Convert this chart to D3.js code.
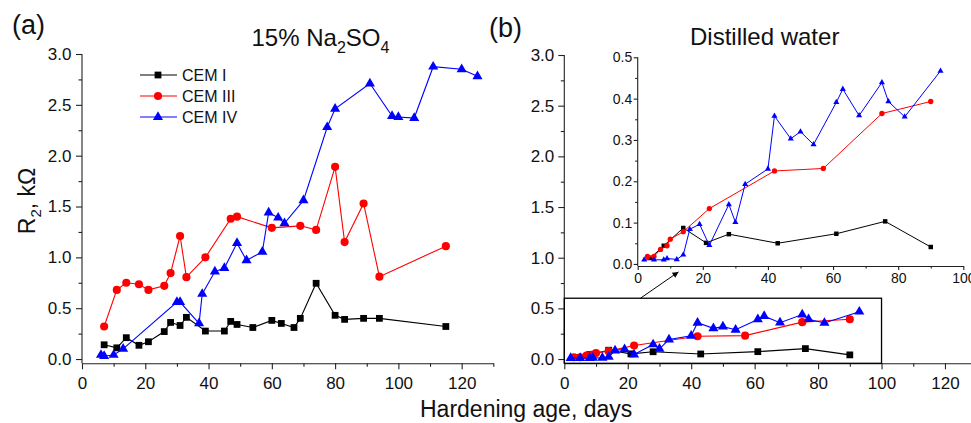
<!DOCTYPE html>
<html>
<head>
<meta charset="utf-8">
<script src="https://cdn.jsdelivr.net/npm/d3@7/dist/d3.min.js"></script>
<style>
  html, body { margin: 0; padding: 0; background: #fff; }
  svg { display: block; font-family: "Liberation Sans", Arial, sans-serif; }
</style>
</head>
<body>
<svg id="chart" width="971" height="423"></svg>
<script>
// ---- (a) 15% Na2SO4: R2 (kOhm) vs hardening age (days) ----
const sulfDaysI  = [7, 11, 14, 18, 21, 26, 28, 31, 33, 39, 45, 47, 49, 54, 60, 63, 67, 69, 74, 80, 83, 89, 94, 115];
const sulfR_I    = [0.14, 0.11, 0.21, 0.135, 0.17, 0.27, 0.36, 0.33, 0.41, 0.275, 0.275, 0.37, 0.34, 0.31, 0.38, 0.35, 0.31, 0.40, 0.745, 0.43, 0.39, 0.40, 0.40, 0.32];
const sulfDaysIII = [7, 11, 14, 18, 21, 26, 28, 31, 33, 39, 47, 49, 60, 69, 74, 80, 83, 89, 94, 115];
const sulfR_III   = [0.32, 0.68, 0.75, 0.735, 0.68, 0.72, 0.845, 1.21, 0.805, 1.0, 1.38, 1.40, 1.29, 1.31, 1.27, 1.89, 1.15, 1.53, 0.81, 1.11];
const sulfDaysIV = [6, 7, 10, 13, 30, 31, 37, 38, 42, 45, 49, 52, 57, 59, 62, 64, 70, 77.5, 80, 91, 98, 100, 105, 111, 120, 125];
const sulfR_IV   = [0.04, 0.03, 0.04, 0.10, 0.56, 0.56, 0.35, 0.64, 0.86, 0.895, 1.14, 0.97, 1.055, 1.44, 1.39, 1.335, 1.56, 2.28, 2.46, 2.71, 2.39, 2.38, 2.37, 2.875, 2.85, 2.78];

// ---- (b) distilled water ----
const waterDaysI  = [4, 8, 14, 21, 28, 43, 61, 76, 90];
const waterR_I    = [0.015, 0.044, 0.087, 0.051, 0.072, 0.050, 0.073, 0.103, 0.041];
const waterDaysIII = [3, 5, 7, 9, 10, 14, 22, 42, 57, 75, 90];
const waterR_III   = [0.018, 0.018, 0.035, 0.044, 0.060, 0.078, 0.134, 0.225, 0.231, 0.364, 0.393];
const waterDaysIV = [2, 5, 8, 9, 12, 14, 16, 19, 22, 28, 30, 33, 40, 42, 47, 50, 54, 61, 63, 68, 75, 77, 82, 93];
const waterR_IV   = [0.010, 0.010, 0.010, 0.013, 0.011, 0.022, 0.084, 0.096, 0.045, 0.144, 0.101, 0.193, 0.230, 0.358, 0.303, 0.320, 0.289, 0.391, 0.423, 0.359, 0.439, 0.393, 0.356, 0.467];

const seriesNames = ["CEM I", "CEM III", "CEM IV"];
const seriesColors = ["#000000", "#ff0000", "#0000ff"];
const seriesSymbols = [d3.symbolSquare, d3.symbolCircle, d3.symbolTriangle];

// tick values
const mainXMajor = [0, 20, 40, 60, 80, 100, 120];
const mainXMinor = [10, 30, 50, 70, 90, 110, 130];
const mainYMajor = [0, 0.5, 1.0, 1.5, 2.0, 2.5, 3.0];
const mainYMinor = [0.25, 0.75, 1.25, 1.75, 2.25, 2.75];
const insetXMajor = [0, 20, 40, 60, 80, 100];
const insetXMinor = [10, 30, 50, 70, 90];
const insetYMajor = [0, 0.1, 0.2, 0.3, 0.4, 0.5];
const insetYMinor = [0.05, 0.15, 0.25, 0.35, 0.45];

// zoomed window of panel (b) shown in the inset, and the pointer arrow
const zoomWindowDays = [0, 100];
const zoomWindowTopR = 0.6;
const arrowFrom = [24, 0.6];
const arrowTo = [36, 0.86];

const svg = d3.select("#chart");
svg.append("rect").attr("width", 971).attr("height", 423).attr("fill", "#fff");

const defs = svg.append("defs");
defs.append("marker")
  .attr("id", "arrowHead")
  .attr("viewBox", "0 0 10 10")
  .attr("refX", 10).attr("refY", 5)
  .attr("markerWidth", 9).attr("markerHeight", 6)
  .attr("markerUnits", "userSpaceOnUse")
  .attr("orient", "auto")
  .append("path").attr("d", "M0,0 L10,5 L0,10 Z").attr("fill", "#000");

const fmt1 = d3.format(".1f");
const fmtInt = d3.format("d");

function drawAxes(x, y, o) {
  const g = svg.append("g");
  const yBase = y.range()[0];
  const xBase = x.range()[0];
  // bottom axis
  const gx = g.append("g").attr("transform", `translate(0,${yBase})`)
    .call(d3.axisBottom(x).tickValues(o.xMajor).tickFormat(fmtInt)
      .tickSize(o.major).tickPadding(o.xPad).tickSizeOuter(0));
  g.append("g").attr("transform", `translate(0,${yBase})`)
    .call(d3.axisBottom(x).tickValues(o.xMinor).tickFormat("")
      .tickSize(o.minor).tickSizeOuter(0))
    .select(".domain").remove();
  // left axis
  const gy = g.append("g").attr("transform", `translate(${xBase},0)`)
    .call(d3.axisLeft(y).tickValues(o.yMajor).tickFormat(fmt1)
      .tickSize(o.major).tickPadding(o.yPad).tickSizeOuter(0));
  g.append("g").attr("transform", `translate(${xBase},0)`)
    .call(d3.axisLeft(y).tickValues(o.yMinor).tickFormat("")
      .tickSize(o.minor).tickSizeOuter(0))
    .select(".domain").remove();
  // left axis spans from the bottom axis up to the top tick
  gy.select(".domain").attr("d", `M0,${yBase}V${y(o.yMajor[o.yMajor.length - 1])}`);
  g.selectAll(".domain, .tick line").attr("stroke", "#222").attr("stroke-width", 1.1);
  g.selectAll(".tick text").attr("fill", "#111")
    .style("font-family", '"Liberation Sans", Arial, sans-serif')
    .style("font-size", o.font + "px");
  return g;
}

function drawSeries(x, y, days, vals, i, sizes, lw) {
  const pts = days.map((d, k) => [d, vals[k]]);
  const g = svg.append("g");
  g.append("path")
    .attr("d", d3.line().x(p => x(p[0])).y(p => y(p[1]))(pts))
    .attr("fill", "none").attr("stroke", seriesColors[i]).attr("stroke-width", lw);
  g.selectAll("path.pt").data(pts).join("path")
    .attr("class", "pt")
    .attr("transform", p => `translate(${x(p[0])},${y(p[1])})`)
    .attr("d", d3.symbol().type(seriesSymbols[i]).size(sizes[i]))
    .attr("fill", seriesColors[i]);
}

const mainSizes = [46, 52, 44];
const insetSizes = [20, 22, 16];

// ---------- panel (a) ----------
const xA = d3.scaleLinear().domain([0, 130]).range([82, 493.3]);
const yA = d3.scaleLinear().domain([-0.042, 3.0]).range([363.3, 54]);
drawAxes(xA, yA, { xMajor: mainXMajor, xMinor: mainXMinor, yMajor: mainYMajor, yMinor: mainYMinor,
  major: 6, minor: 3.5, xPad: 7.5, yPad: 4.5, font: 17 });

drawSeries(xA, yA, sulfDaysI, sulfR_I, 0, mainSizes, 1.1);
drawSeries(xA, yA, sulfDaysIII, sulfR_III, 1, mainSizes, 1.1);
drawSeries(xA, yA, sulfDaysIV, sulfR_IV, 2, mainSizes, 1.1);

// legend
const legend = svg.append("g").attr("transform", "translate(140,75)");
seriesNames.forEach((name, i) => {
  const row = legend.append("g").attr("transform", `translate(0,${i * 21})`);
  row.append("line").attr("x1", 0).attr("x2", 37).attr("y1", 0).attr("y2", 0)
    .attr("stroke", seriesColors[i]).attr("stroke-width", 1.1);
  row.append("path").attr("transform", "translate(18,0)")
    .attr("d", d3.symbol().type(seriesSymbols[i]).size(mainSizes[i]))
    .attr("fill", seriesColors[i]);
  row.append("text").attr("x", 42).attr("y", 6).attr("font-size", 16).attr("fill", "#111").text(name);
});

// ---------- panel (b) ----------
const xB = d3.scaleLinear().domain([0, 130]).range([564.3, 976.7]);
const yB = d3.scaleLinear().domain([-0.042, 3.0]).range([363.3, 55]);
drawAxes(xB, yB, { xMajor: mainXMajor, xMinor: mainXMinor, yMajor: mainYMajor, yMinor: mainYMinor,
  major: 6, minor: 3.5, xPad: 7.5, yPad: 4, font: 17 });

drawSeries(xB, yB, waterDaysI, waterR_I, 0, mainSizes, 1.1);
drawSeries(xB, yB, waterDaysIII, waterR_III, 1, mainSizes, 1.1);
drawSeries(xB, yB, waterDaysIV, waterR_IV, 2, mainSizes, 1.1);

// zoom window frame and arrow to the inset
svg.append("rect")
  .attr("x", xB(zoomWindowDays[0])).attr("y", yB(zoomWindowTopR))
  .attr("width", xB(zoomWindowDays[1]) - xB(zoomWindowDays[0]))
  .attr("height", yB.range()[0] - yB(zoomWindowTopR))
  .attr("fill", "none").attr("stroke", "#000").attr("stroke-width", 1.3);
svg.append("line")
  .attr("x1", xB(arrowFrom[0])).attr("y1", yB(arrowFrom[1]))
  .attr("x2", xB(arrowTo[0])).attr("y2", yB(arrowTo[1]))
  .attr("stroke", "#000").attr("stroke-width", 1)
  .attr("marker-end", "url(#arrowHead)");

// inset
const xI = d3.scaleLinear().domain([0, 100]).range([637.7, 963.3]);
const yI = d3.scaleLinear().domain([-0.005, 0.5]).range([266, 57.3]);
drawAxes(xI, yI, { xMajor: insetXMajor, xMinor: insetXMinor, yMajor: insetYMajor, yMinor: insetYMinor,
  major: 4, minor: 2.5, xPad: 3.5, yPad: 1.5, font: 14 });

drawSeries(xI, yI, waterDaysI, waterR_I, 0, insetSizes, 1);
drawSeries(xI, yI, waterDaysIII, waterR_III, 1, insetSizes, 1);
drawSeries(xI, yI, waterDaysIV, waterR_IV, 2, insetSizes, 1);

// ---------- titles and labels ----------
svg.append("text").attr("x", 12).attr("y", 33.5).attr("font-size", 27).attr("fill", "#111").text("(a)");
svg.append("text").attr("x", 489).attr("y", 37).attr("font-size", 27).attr("fill", "#111").text("(b)");

const tA = svg.append("text").attr("x", 251.5).attr("y", 46).attr("font-size", 24).attr("fill", "#111");
tA.append("tspan").text("15% Na");
tA.append("tspan").attr("font-size", 16).attr("dy", 7).text("2");
tA.append("tspan").attr("dy", -7).text("SO");
tA.append("tspan").attr("font-size", 16).attr("dy", 7).text("4");

svg.append("text").attr("x", 690).attr("y", 45).attr("font-size", 24).attr("fill", "#111").text("Distilled water");

const yTitle = svg.append("text")
  .attr("transform", "translate(35,201) rotate(-90)")
  .attr("text-anchor", "middle").attr("font-size", 23).attr("fill", "#111");
yTitle.append("tspan").text("R");
yTitle.append("tspan").attr("font-size", 15).attr("dy", 6).text("2");
yTitle.append("tspan").attr("dy", -6).text(", kΩ");

svg.append("text").attr("x", 420).attr("y", 417).attr("font-size", 23).attr("fill", "#111").text("Hardening age, days");
</script>
</body>
</html>
